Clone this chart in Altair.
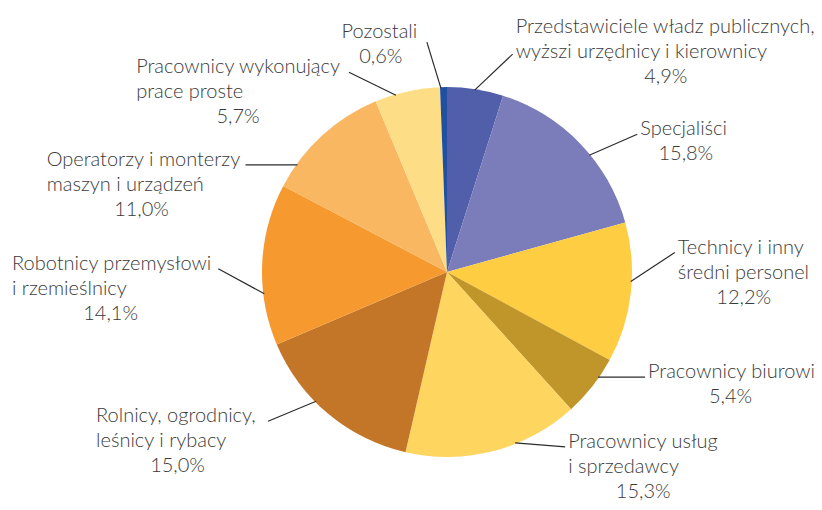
import altair as alt
import pandas as pd

# ---- data ----
categories = [
    "Przedstawiciele władz publicznych,\nwyższi urzędnicy i kierownicy",
    "Specjaliści",
    "Technicy i inny\nśredni personel",
    "Pracownicy biurowi",
    "Pracownicy usług\ni sprzedawcy",
    "Rolnicy, ogrodnicy,\nleśnicy i rybacy",
    "Robotnicy przemysłowi\ni rzemieślnicy",
    "Operatorzy i monterzy\nmaszyn i urządzeń",
    "Pracownicy wykonujący\nprace proste",
    "Pozostali",
]
values = [4.9, 15.8, 12.2, 5.4, 15.3, 15.0, 14.1, 11.0, 5.7, 0.6]
colors = ["#515eaa", "#7a7dba", "#fecd41", "#c0962a", "#fdd55f",
          "#c37627", "#f6992f", "#f9b762", "#fddd85", "#2150a0"]

# ---- label layout (leader lines) ----
leader_frac = [0.49, 0.58, 0.42, 0.33, 0.37, 0.60, 0.32, 0.20, 0.32, 0.12]
leader_dx = [38, 48, 44, 47, 50, -48, -46, -52, -47, -14]
leader_dy = [-36, -21, -29, 0, 4, 20, -25, 0, -23, -46]
attach = [0.9, 0, 0, 0, 0, 0, 0, 0, 0, 0.2]

FONT = "Lato"
FS = 20
LH = 25
WF = 0.965  # width factor relative to Arial metrics
CX, CY, R = 439, 264, 185
W, H = 806, 494

_w = {'a': 556, 'b': 556, 'c': 500, 'd': 556, 'e': 556, 'f': 278, 'g': 556, 'h': 556,
      'i': 222, 'j': 222, 'k': 500, 'l': 222, 'm': 833, 'n': 556, 'o': 556, 'p': 556,
      'q': 556, 'r': 333, 's': 500, 't': 278, 'u': 556, 'v': 500, 'w': 722, 'x': 500,
      'y': 500, 'z': 500, ' ': 278, ',': 278, '.': 278, '%': 889, 'ł': 222, 'ż': 500,
      'ę': 556, 'ś': 500, 'ą': 556, 'ń': 556, 'ó': 556, 'P': 667, 'S': 667, 'T': 611,
      'R': 722, 'O': 778}


def text_w(s):
    return sum(_w.get(ch, 556) for ch in s) / 1000 * FS * WF


rows = []
for i, (c, v) in enumerate(zip(categories, values)):
    lines = c.split("\n")
    rows.append({
        "order": i,
        "category": c,
        "value": v,
        "pct": f"{v:.1f}".replace(".", ",") + "%",
        "frac": leader_frac[i],
        "ldx": leader_dx[i],
        "ldy": leader_dy[i],
        "attach": attach[i],
        "nlines": len(lines),
        "w1": text_w(lines[0]),
        "wmax": max(text_w(s) for s in lines),
    })
df = pd.DataFrame(rows)

base = alt.Chart(df).transform_window(
    cum="sum(value)", sort=[alt.SortField("order")], frame=[None, 0]
).transform_calculate(
    end="datum.cum",
    start="datum.cum - datum.value",
).transform_calculate(
    ang="(datum.start + datum.frac * datum.value) / 100 * 2 * PI",
).transform_calculate(
    sx=f"{CX} + {R - 1} * sin(datum.ang)",
    sy=f"{CY} - {R - 1} * cos(datum.ang)",
).transform_calculate(
    ex="datum.sx + datum.ldx",
    ey="datum.sy + datum.ldy",
).transform_calculate(
    tx="datum.ldx > 0 ? datum.ex + 3 : datum.ex - (datum.ldy < -40 ? 7 : 9) - datum.w1",
    ty=f"datum.ey + 1 - datum.attach * {LH}",
).transform_calculate(
    px="datum.tx + datum.wmax / 2",
    py=f"min(datum.ty + datum.nlines * {LH}, {H - 4})",
)

pie = base.mark_arc(radius=R).encode(
    theta=alt.Theta("start:Q", scale=alt.Scale(domain=[0, 100], range=[0, 6.283185307179586]), stack=None),
    theta2="end:Q",
    color=alt.Color("category:N", scale=alt.Scale(domain=categories, range=colors), legend=None),
    x=alt.value(CX),
    y=alt.value(CY),
)

leaders = base.mark_rule(color="#2b2b2b", strokeWidth=1.2).encode(
    x=alt.X("sx:Q", scale=None),
    y=alt.Y("sy:Q", scale=None),
    x2="ex:Q",
    y2="ey:Q",
)

names = base.mark_text(
    align="left", baseline="alphabetic", lineBreak="\n", lineHeight=LH,
    font=FONT, fontSize=FS, fontWeight=300, color="#3a3a3a",
).encode(
    x=alt.X("tx:Q", scale=None),
    y=alt.Y("ty:Q", scale=None),
    text="category:N",
)

pcts = base.mark_text(
    align="center", baseline="alphabetic",
    font=FONT, fontSize=FS, fontWeight=300, color="#3a3a3a",
).encode(
    x=alt.X("px:Q", scale=None),
    y=alt.Y("py:Q", scale=None),
    text="pct:N",
)

chart = alt.layer(pie, leaders, names, pcts).properties(
    width=W, height=H, padding=0, autosize=alt.AutoSizeParams(type="none"),
).configure_view(stroke=None)

chart.save("out.html", embed_options={"renderer": "svg", "actions": False})
